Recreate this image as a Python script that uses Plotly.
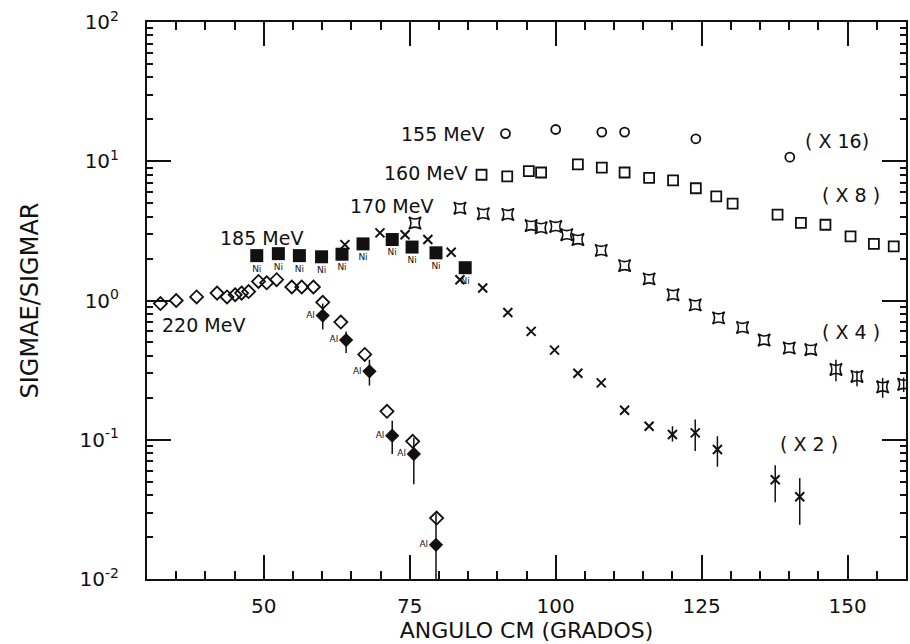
import math
import plotly.graph_objects as go

# ---------------- data ----------------
e155_x = [91.4, 100.0, 107.9, 111.8, 124.0, 140.1]
e155_y = [15.8, 16.9, 16.2, 16.2, 14.5, 10.7]

e160_x = [87.3, 91.7, 95.4, 97.5, 103.8, 107.9, 111.8, 116.0, 120.1, 124.0,
          127.5, 130.3, 138.0, 142.0, 146.2, 150.5, 154.5, 157.9]
e160_y = [8.0, 7.8, 8.5, 8.3, 9.5, 9.0, 8.3, 7.6, 7.3, 6.4,
          5.6, 4.97, 4.14, 3.61, 3.5, 2.89, 2.55, 2.45]

e170_x = [75.9, 83.6, 87.6, 91.8, 95.8, 97.5, 100.0, 101.9, 103.8, 107.8,
          111.8, 116.0, 120.1, 123.9, 127.9, 132.0, 135.7, 140.0, 143.7,
          148.0, 151.6, 156.0, 159.6]
e170_y = [3.6, 4.6, 4.2, 4.15, 3.45, 3.33, 3.4, 2.97, 2.74, 2.29,
          1.78, 1.43, 1.10, 0.93, 0.75, 0.64, 0.52, 0.456, 0.444,
          0.32, 0.285, 0.24, 0.25]
e170_up = [0] * 19 + [0.056, 0.028, 0.038, 0.03]
e170_dn = [0] * 19 + [0.057, 0.043, 0.040, 0.03]

x2_x = [63.9, 69.9, 74.2, 78.1, 82.1, 83.6, 87.5, 91.8, 95.8, 99.8,
        103.8, 107.8, 111.8, 116.0, 120.0, 123.9, 127.7, 137.6, 141.8]
x2_y = [2.52, 3.06, 2.97, 2.74, 2.22, 1.41, 1.23, 0.82, 0.60, 0.44,
        0.30, 0.256, 0.163, 0.125, 0.109, 0.112, 0.085, 0.0516, 0.039]
x2_up = [0] * 14 + [0.016, 0.028, 0.021, 0.014, 0.014]
x2_dn = [0] * 14 + [0.012, 0.029, 0.021, 0.016, 0.0145]

ni_x = [48.8, 52.5, 56.1, 59.9, 63.4, 67.0, 72.0, 75.4, 79.5, 84.5]
ni_y = [2.10, 2.17, 2.10, 2.06, 2.15, 2.55, 2.74, 2.42, 2.20, 1.72]

d220_x = [32.3, 35.0, 38.5, 42.0, 43.7, 45.1, 46.2, 47.4, 49.1, 50.5,
          52.2, 54.8, 56.5, 58.5, 60.1, 63.2, 67.3, 71.1, 75.5, 79.6]
d220_y = [0.95, 1.0, 1.06, 1.13, 1.06, 1.10, 1.13, 1.16, 1.37, 1.34,
          1.41, 1.25, 1.25, 1.25, 0.97, 0.70, 0.41, 0.16, 0.0975, 0.0274]

al_x = [60.1, 64.1, 68.1, 72.0, 75.7, 79.5]
al_y = [0.78, 0.52, 0.31, 0.107, 0.079, 0.0176]
al_up = [0.17, 0.08, 0.066, 0.03, 0.024, 0.012]
al_dn = [0.16, 0.10, 0.065, 0.028, 0.031, 0.0078]

y_tickvals = [0.01, 0.1, 1, 10, 100]
y_ticktext = ["10<sup>-2</sup>", "10<sup>-1</sup>", "10<sup>0</sup>",
              "10<sup>1</sup>", "10<sup>2</sup>"]
x_tickvals = [50, 75, 100, 125, 150]

FONT = "DejaVu Sans"
INK = "#111111"

fig = go.Figure()

def err(up, dn):
    return dict(type="data", symmetric=False, array=up, arrayminus=dn,
                color=INK, thickness=1.5, width=0)

fig.add_trace(go.Scatter(x=e155_x, y=e155_y, mode="markers",
    marker=dict(symbol="circle-open", size=9, color=INK, line=dict(width=1.8))))
fig.add_trace(go.Scatter(x=e160_x, y=e160_y, mode="markers",
    marker=dict(symbol="square-open", size=10, color=INK, line=dict(width=1.8))))
fig.add_trace(go.Scatter(x=e170_x, y=e170_y, mode="markers",
    error_y=err(e170_up, e170_dn),
    marker=dict(symbol="star-square-open", size=11, color=INK, line=dict(width=1.6))))
fig.add_trace(go.Scatter(x=x2_x, y=x2_y, mode="markers",
    error_y=err(x2_up, x2_dn),
    marker=dict(symbol="x-thin-open", size=9, color=INK, line=dict(width=2))))
fig.add_trace(go.Scatter(x=ni_x, y=ni_y, mode="markers+text",
    text=["Ni"] * len(ni_x), textposition="bottom center",
    textfont=dict(family=FONT, size=9, color=INK),
    marker=dict(symbol="square", size=13, color=INK)))
fig.add_trace(go.Scatter(x=d220_x, y=d220_y, mode="markers",
    marker=dict(symbol="diamond-open", size=10, color=INK, line=dict(width=1.8))))
fig.add_trace(go.Scatter(x=al_x, y=al_y, mode="markers+text",
    text=["Al"] * len(al_x), textposition="middle left",
    textfont=dict(family=FONT, size=9, color=INK),
    error_y=err(al_up, al_dn),
    marker=dict(symbol="diamond", size=11, color=INK)))

labels = [
    ("155 MeV", 80.6, 15.8),
    ("160 MeV", 77.7, 8.26),
    ("170 MeV", 71.8, 4.81),
    ("185 MeV", 49.6, 2.82),
    ("220 MeV", 39.6, 0.671),
    ("( X 16)", 148.1, 13.9),
    ("( X 8 )", 150.65, 5.68),
    ("( X 4 )", 150.65, 0.592),
    ("( X 2 )", 143.4, 0.0938),
]
for txt, lx, ly in labels:
    fig.add_annotation(x=lx, y=math.log10(ly), text=txt, showarrow=False,
                       font=dict(family=FONT, size=19, color=INK),
                       xanchor="center", yanchor="middle")

fig.update_layout(
    width=910, height=644,
    margin=dict(l=147, r=2, t=22, b=65),
    paper_bgcolor="white", plot_bgcolor="white",
    showlegend=False,
    font=dict(family=FONT, color=INK),
    xaxis=dict(
        range=[30, 160], showgrid=False, zeroline=False,
        showline=True, linecolor=INK, linewidth=2, mirror="allticks",
        ticks="inside", ticklen=24, tickwidth=2, tickcolor=INK,
        tickmode="array", tickvals=x_tickvals, ticklabelstandoff=8,
        tickfont=dict(family=FONT, size=20, color=INK),
        minor=dict(ticks="inside", ticklen=8, tickwidth=2, tickcolor=INK,
                   tickmode="linear", tick0=0, dtick=5, showgrid=False),
        title=dict(text="ANGULO CM (GRADOS)", standoff=2,
                   font=dict(family=FONT, size=22, color=INK)),
    ),
    yaxis=dict(
        type="log", range=[-2, 2], showgrid=False, zeroline=False,
        showline=True, linecolor=INK, linewidth=2, mirror="allticks",
        ticks="inside", ticklen=24, tickwidth=2, tickcolor=INK,
        tickmode="array", tickvals=y_tickvals, ticktext=y_ticktext,
        ticklabelstandoff=22,
        tickfont=dict(family=FONT, size=20, color=INK),
        minor=dict(ticks="inside", ticklen=6, tickwidth=2, tickcolor=INK,
                   dtick="D1", showgrid=False),
        title=dict(text="SIGMAE/SIGMAR", standoff=34,
                   font=dict(family=FONT, size=24, color=INK)),
    ),
)

fig.write_html("out.html")
